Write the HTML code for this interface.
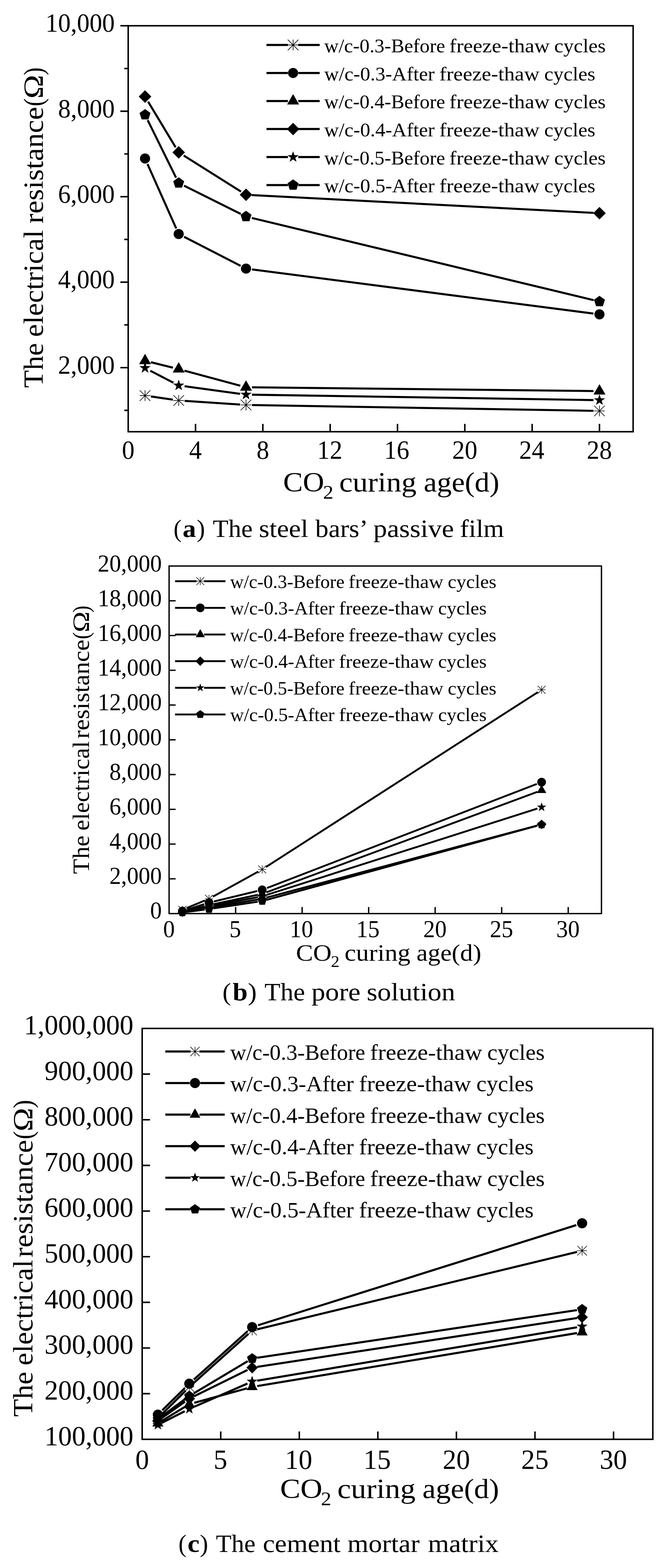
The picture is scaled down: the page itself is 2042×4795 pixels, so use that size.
<!DOCTYPE html>
<html lang="en"><head><meta charset="utf-8"><title>Electrical resistance vs CO2 curing age</title>
<style>
html,body{margin:0;padding:0;background:#fff;}
body{width:2042px;height:4795px;overflow:hidden;}
svg{display:block;}
svg text{font-family:"Liberation Serif",serif;fill:#000;font-kerning:none;font-variant-ligatures:none;white-space:pre;}
</style></head><body>
<svg width="2042" height="4795" viewBox="0 0 2042 4795">
<rect width="2042" height="4795" fill="#fff"/>
<rect x="391.9" y="78.8" width="1543.5" height="1241.4" fill="none" stroke="#000" stroke-width="4.6"/>
<path d="M391.9,1254.86h-12M391.9,1124.19h-24M391.9,993.52h-12M391.9,862.84h-24M391.9,732.17h-12M391.9,601.49h-24M391.9,470.82h-12M391.9,340.15h-24M391.9,209.47h-12M391.9,78.8h-24M597.7,1320.2v-24M803.5,1320.2v-24M1009.3,1320.2v-24M1215.1,1320.2v-24M1420.9,1320.2v-24M1626.7,1320.2v-24M1832.5,1320.2v-24" stroke="#000" stroke-width="4.6" fill="none"/>
<text transform="translate(138.93,97.3) scale(0.9657,1)" font-size="79.76">10,000</text>
<text transform="translate(177.44,358.65) scale(0.9657,1)" font-size="79.76">8,000</text>
<text transform="translate(177.44,619.99) scale(0.9657,1)" font-size="79.76">6,000</text>
<text transform="translate(177.44,881.34) scale(0.9657,1)" font-size="79.76">4,000</text>
<text transform="translate(177.44,1142.69) scale(0.9657,1)" font-size="79.76">2,000</text>
<text transform="translate(372.65,1402.6) scale(0.9657,1)" font-size="79.76">0</text>
<text transform="translate(578.29,1402.6) scale(0.9657,1)" font-size="79.76">4</text>
<text transform="translate(784.25,1402.6) scale(0.9657,1)" font-size="79.76">8</text>
<text transform="translate(969.53,1402.6) scale(0.9657,1)" font-size="79.76">12</text>
<text transform="translate(1174.35,1402.6) scale(0.9657,1)" font-size="79.76">16</text>
<text transform="translate(1382.16,1402.6) scale(0.9657,1)" font-size="79.76">20</text>
<text transform="translate(1587.1,1402.6) scale(0.9657,1)" font-size="79.76">24</text>
<text transform="translate(1793.76,1402.6) scale(0.9657,1)" font-size="79.76">28</text>
<text transform="translate(131,1185.99) rotate(-90) scale(1.0444,1)" font-size="84.53">The</text>
<text transform="translate(131,1030.59) rotate(-90) scale(1.0568,1)" font-size="84.53">electrical</text>
<text transform="translate(131,683.51) rotate(-90) scale(1.0714,1)" font-size="84.53">resistance</text>
<text transform="translate(131,324.92) rotate(-90) scale(0.8659,1)" font-size="84.53">(</text>
<text transform="translate(131,302.02) rotate(-90) scale(1.1707,1)" font-size="84.53">Ω</text>
<text transform="translate(131,229.91) rotate(-90) scale(0.8475,1)" font-size="84.53">)</text>
<text transform="translate(865.39,1503) scale(1.0707,1)" font-size="84.38">CO</text>
<text transform="translate(987.6,1525.2) scale(1.0769,1)" font-size="59.07">2</text>
<text transform="translate(1036.98,1503) scale(1.0956,1)" font-size="84.38">curing</text>
<text transform="translate(1295.32,1503) scale(1.0727,1)" font-size="84.38">age(d)</text>
<text transform="translate(530.55,1642.3) scale(0.9643,1)" font-size="76.71">(</text>
<text transform="translate(558.36,1642.3) scale(1.0684,1)" font-size="76.71" font-weight="bold">a</text>
<text transform="translate(601.23,1642.3) scale(0.9999,1)" font-size="76.71">)</text>
<text transform="translate(650.49,1642.3) scale(1.0198,1)" font-size="76.71">The</text>
<text transform="translate(791.42,1642.3) scale(1.0743,1)" font-size="76.71">steel</text>
<text transform="translate(963.8,1642.3) scale(1.0529,1)" font-size="76.71">bars’</text>
<text transform="translate(1141.35,1642.3) scale(1.0913,1)" font-size="76.71">passive</text>
<text transform="translate(1406.01,1642.3) scale(1.054,1)" font-size="76.71">film</text>
<path d="M814.6,137.5H880.15M911.75,137.5H977.3" stroke="#000" stroke-width="6.5" fill="none"/>
<path d="M879.45,137.5H912.45M895.95,121V154M879.7,121.25L912.2,153.75M879.7,153.75L912.2,121.25" stroke="#000" stroke-width="1.9" fill="none"/>
<text transform="translate(991.34,160.1) scale(1.0228,1)" font-size="59.39">w/c-0.3-Before</text>
<text transform="translate(1373.57,160.1) scale(1.0944,1)" font-size="59.39">freeze-thaw</text>
<text transform="translate(1694.37,160.1) scale(1.0594,1)" font-size="59.39">cycles</text>
<path d="M814.6,223.2H880.05M911.85,223.2H977.3" stroke="#000" stroke-width="6.5" fill="none"/>
<circle cx="895.95" cy="223.2" r="15.45"/>
<text transform="translate(991.34,245.75) scale(1.0384,1)" font-size="59.39">w/c-0.3-After</text>
<text transform="translate(1342.89,245.75) scale(1.0927,1)" font-size="59.39">freeze-thaw</text>
<text transform="translate(1663.69,245.75) scale(1.0531,1)" font-size="59.39">cycles</text>
<path d="M814.6,308.9H880.15M911.75,308.9H977.3" stroke="#000" stroke-width="6.5" fill="none"/>
<polygon points="895.95,287.77 914.25,319.47 877.65,319.47"/>
<text transform="translate(991.34,331.4) scale(1.0228,1)" font-size="59.39">w/c-0.4-Before</text>
<text transform="translate(1373.57,331.4) scale(1.0944,1)" font-size="59.39">freeze-thaw</text>
<text transform="translate(1694.37,331.4) scale(1.0594,1)" font-size="59.39">cycles</text>
<path d="M814.6,394.6H880.15M911.75,394.6H977.3" stroke="#000" stroke-width="6.5" fill="none"/>
<polygon points="895.95,375.4 915.15,394.6 895.95,413.8 876.75,394.6"/>
<text transform="translate(991.34,417.05) scale(1.0384,1)" font-size="59.39">w/c-0.4-After</text>
<text transform="translate(1342.89,417.05) scale(1.0927,1)" font-size="59.39">freeze-thaw</text>
<text transform="translate(1663.69,417.05) scale(1.0531,1)" font-size="59.39">cycles</text>
<path d="M814.6,480.3H880.15M911.75,480.3H977.3" stroke="#000" stroke-width="6.5" fill="none"/>
<polygon points="895.95,462.4 900.16,474.51 912.97,474.77 902.76,482.51 906.47,494.78 895.95,487.46 885.43,494.78 889.14,482.51 878.93,474.77 891.74,474.51"/>
<text transform="translate(991.34,502.7) scale(1.0228,1)" font-size="59.39">w/c-0.5-Before</text>
<text transform="translate(1373.57,502.7) scale(1.0944,1)" font-size="59.39">freeze-thaw</text>
<text transform="translate(1694.37,502.7) scale(1.0594,1)" font-size="59.39">cycles</text>
<path d="M814.6,566H880.15M911.75,566H977.3" stroke="#000" stroke-width="6.5" fill="none"/>
<polygon points="895.95,548.4 912.69,560.56 906.3,580.24 885.6,580.24 879.21,560.56"/>
<text transform="translate(991.34,588.35) scale(1.0384,1)" font-size="59.39">w/c-0.5-After</text>
<text transform="translate(1342.89,588.35) scale(1.0927,1)" font-size="59.39">freeze-thaw</text>
<text transform="translate(1663.69,588.35) scale(1.0531,1)" font-size="59.39">cycles</text>
<path d="M461.36,1212.41L528.24,1222.09M564.41,1225.91L733.89,1237.19M770.25,1238.71L1814.3,1256.29" stroke="#000" stroke-width="6.3" fill="none"/>
<path d="M426.85,1209.8H459.85M443.35,1193.3V1226.3M427.1,1193.55L459.6,1226.05M427.1,1226.05L459.6,1193.55" stroke="#000" stroke-width="1.9" fill="none"/>
<path d="M529.75,1224.7H562.75M546.25,1208.2V1241.2M530,1208.45L562.5,1240.95M530,1240.95L562.5,1208.45" stroke="#000" stroke-width="1.9" fill="none"/>
<path d="M735.55,1238.4H768.55M752.05,1221.9V1254.9M735.8,1222.15L768.3,1254.65M735.8,1254.65L768.3,1222.15" stroke="#000" stroke-width="1.9" fill="none"/>
<path d="M1816,1256.6H1849M1832.5,1240.1V1273.1M1816.25,1240.35L1848.75,1272.85M1816.25,1272.85L1848.75,1240.35" stroke="#000" stroke-width="1.9" fill="none"/>
<path d="M450.88,501.6L538.72,698.8M562.71,724.15L735.59,812.95M770.4,823.78L1814.15,958.92" stroke="#000" stroke-width="6.3" fill="none"/>
<circle cx="443.35" cy="484.7" r="15.45"/>
<circle cx="546.25" cy="715.7" r="15.45"/>
<circle cx="752.05" cy="821.4" r="15.45"/>
<circle cx="1832.5" cy="961.3" r="15.45"/>
<path d="M461.02,1107.58L528.58,1124.32M563.82,1133.44L734.48,1179.46M770.25,1184.4L1814.3,1195.8" stroke="#000" stroke-width="6.3" fill="none"/>
<polygon points="443.35,1082.07 461.65,1113.77 425.05,1113.77"/>
<polygon points="546.25,1107.57 564.55,1139.27 527.95,1139.27"/>
<polygon points="752.05,1163.07 770.35,1194.77 733.75,1194.77"/>
<polygon points="1832.5,1174.87 1850.8,1206.57 1814.2,1206.57"/>
<path d="M452.75,310.89L536.85,450.41M561.65,475.7L736.65,585.9M770.23,596.55L1814.32,650.95" stroke="#000" stroke-width="6.3" fill="none"/>
<polygon points="443.35,276.1 462.55,295.3 443.35,314.5 424.15,295.3"/>
<polygon points="546.25,446.8 565.45,466 546.25,485.2 527.05,466"/>
<polygon points="752.05,576.4 771.25,595.6 752.05,614.8 732.85,595.6"/>
<polygon points="1832.5,632.7 1851.7,651.9 1832.5,671.1 1813.3,651.9"/>
<path d="M459.5,1133.78L530.1,1170.42M564.29,1181.24L734.01,1204.26M770.25,1206.99L1814.3,1223.51" stroke="#000" stroke-width="6.3" fill="none"/>
<polygon points="443.35,1107.5 447.56,1119.61 460.37,1119.87 450.16,1127.61 453.87,1139.88 443.35,1132.56 432.83,1139.88 436.54,1127.61 426.33,1119.87 439.14,1119.61"/>
<polygon points="546.25,1160.9 550.46,1173.01 563.27,1173.27 553.06,1181.01 556.77,1193.28 546.25,1185.96 535.73,1193.28 539.44,1181.01 529.23,1173.27 542.04,1173.01"/>
<polygon points="752.05,1188.8 756.26,1200.91 769.07,1201.17 758.86,1208.91 762.57,1221.18 752.05,1213.86 741.53,1221.18 745.24,1208.91 735.03,1201.17 747.84,1200.91"/>
<polygon points="1832.5,1205.9 1836.71,1218.01 1849.52,1218.27 1839.31,1226.01 1843.02,1238.28 1832.5,1230.96 1821.98,1238.28 1825.69,1226.01 1815.48,1218.27 1828.29,1218.01"/>
<path d="M451.4,367.32L538.2,543.28M562.54,567.72L735.76,654.08M769.74,666.46L1814.81,917.94" stroke="#000" stroke-width="6.3" fill="none"/>
<polygon points="443.35,333.4 460.09,345.56 453.7,365.24 433,365.24 426.61,345.56"/>
<polygon points="546.25,542 562.99,554.16 556.6,573.84 535.9,573.84 529.51,554.16"/>
<polygon points="752.05,644.6 768.79,656.76 762.4,676.44 741.7,676.44 735.31,656.76"/>
<polygon points="1832.5,904.6 1849.24,916.76 1842.85,936.44 1822.15,936.44 1815.76,916.76"/>
<rect x="516.9" y="1730.9" width="1321.7" height="1062.9" fill="none" stroke="#000" stroke-width="4.1"/>
<path d="M516.9,2687.51h20M516.9,2581.22h20M516.9,2474.93h20M516.9,2368.64h20M516.9,2262.35h20M516.9,2156.06h20M516.9,2049.77h20M516.9,1943.48h20M516.9,1837.19h20M720.24,2793.8v-20M923.58,2793.8v-20M1126.92,2793.8v-20M1330.25,2793.8v-20M1533.59,2793.8v-20M1736.93,2793.8v-20" stroke="#000" stroke-width="4.1" fill="none"/>
<text transform="translate(298.87,1747.7) scale(0.9701,1)" font-size="73.41">20,000</text>
<text transform="translate(459.1,2809.4) scale(0.9701,1)" font-size="73.41">0</text>
<text transform="translate(334.48,2703.23) scale(0.9701,1)" font-size="73.41">2,000</text>
<text transform="translate(334.48,2597.06) scale(0.9701,1)" font-size="73.41">4,000</text>
<text transform="translate(334.48,2490.89) scale(0.9701,1)" font-size="73.41">6,000</text>
<text transform="translate(334.48,2384.72) scale(0.9701,1)" font-size="73.41">8,000</text>
<text transform="translate(298.87,2278.55) scale(0.9701,1)" font-size="73.41">10,000</text>
<text transform="translate(298.87,2172.38) scale(0.9701,1)" font-size="73.41">12,000</text>
<text transform="translate(298.87,2066.21) scale(0.9701,1)" font-size="73.41">14,000</text>
<text transform="translate(298.87,1960.04) scale(0.9701,1)" font-size="73.41">16,000</text>
<text transform="translate(298.87,1853.87) scale(0.9701,1)" font-size="73.41">18,000</text>
<text transform="translate(498.7,2865.9) scale(0.9701,1)" font-size="73.41">0</text>
<text transform="translate(701.36,2865.9) scale(0.9701,1)" font-size="73.41">5</text>
<text transform="translate(885.8,2865.9) scale(0.9701,1)" font-size="73.41">10</text>
<text transform="translate(1089.17,2865.9) scale(0.9701,1)" font-size="73.41">15</text>
<text transform="translate(1294.04,2865.9) scale(0.9701,1)" font-size="73.41">20</text>
<text transform="translate(1497.41,2865.9) scale(0.9701,1)" font-size="73.41">25</text>
<text transform="translate(1700.58,2865.9) scale(0.9701,1)" font-size="73.41">30</text>
<text transform="translate(272.4,2672.46) rotate(-90) scale(1.0402,1)" font-size="72.58">The</text>
<text transform="translate(272.4,2540.02) rotate(-90) scale(1.029,1)" font-size="72.58">electrical</text>
<text transform="translate(272.4,2259.04) rotate(-90) scale(1.0596,1)" font-size="72.58">resistance</text>
<text transform="translate(272.4,1954.76) rotate(-90) scale(0.8958,1)" font-size="72.58">(</text>
<text transform="translate(272.4,1933.76) rotate(-90) scale(1.1868,1)" font-size="72.58">Ω</text>
<text transform="translate(272.4,1872.93) rotate(-90) scale(0.869,1)" font-size="72.58">)</text>
<text transform="translate(904.68,2938.4) scale(1.0848,1)" font-size="72.29">CO</text>
<text transform="translate(1011.59,2957.4) scale(1.0402,1)" font-size="50.6">2</text>
<text transform="translate(1053.3,2938.4) scale(1.0912,1)" font-size="72.29">curing</text>
<text transform="translate(1272.97,2938.4) scale(1.0744,1)" font-size="72.29">age(d)</text>
<text transform="translate(680.04,3058.5) scale(1.0252,1)" font-size="76.71">(</text>
<text transform="translate(711.15,3058.5) scale(1.0731,1)" font-size="76.71" font-weight="bold">b</text>
<text transform="translate(757.78,3058.5) scale(1.0608,1)" font-size="76.71">)</text>
<text transform="translate(808.56,3058.5) scale(1.0389,1)" font-size="76.71">The</text>
<text transform="translate(951.94,3058.5) scale(1.1011,1)" font-size="76.71">pore</text>
<text transform="translate(1120.96,3058.5) scale(1.0942,1)" font-size="76.71">solution</text>
<path d="M535.2,1777.3H600.6M623.8,1777.3H689.2" stroke="#000" stroke-width="5.7" fill="none"/>
<path d="M600.05,1777.3H624.35M612.2,1765.15V1789.45M600.23,1765.33L624.17,1789.27M600.23,1789.27L624.17,1765.33" stroke="#000" stroke-width="1.6" fill="none"/>
<text transform="translate(703.44,1798) scale(1.0101,1)" font-size="56.91">w/c-0.3-Before</text>
<text transform="translate(1065.18,1798) scale(1.0809,1)" font-size="56.91">freeze-thaw</text>
<text transform="translate(1368.78,1798) scale(1.0463,1)" font-size="56.91">cycles</text>
<path d="M535.2,1858.8H598.3M626.1,1858.8H689.2" stroke="#000" stroke-width="5.7" fill="none"/>
<circle cx="612.2" cy="1858.8" r="13.35"/>
<text transform="translate(703.44,1879.45) scale(1.0253,1)" font-size="56.91">w/c-0.3-After</text>
<text transform="translate(1036.07,1879.45) scale(1.0789,1)" font-size="56.91">freeze-thaw</text>
<text transform="translate(1339.59,1879.45) scale(1.0398,1)" font-size="56.91">cycles</text>
<path d="M535.2,1940.3H600.6M623.8,1940.3H689.2" stroke="#000" stroke-width="5.7" fill="none"/>
<polygon points="612.2,1924.08 626.25,1948.41 598.15,1948.41"/>
<text transform="translate(703.44,1960.9) scale(1.0101,1)" font-size="56.91">w/c-0.4-Before</text>
<text transform="translate(1065.18,1960.9) scale(1.0809,1)" font-size="56.91">freeze-thaw</text>
<text transform="translate(1368.78,1960.9) scale(1.0463,1)" font-size="56.91">cycles</text>
<path d="M535.2,2021.8H600.6M623.8,2021.8H689.2" stroke="#000" stroke-width="5.7" fill="none"/>
<polygon points="612.2,2007.2 626.8,2021.8 612.2,2036.4 597.6,2021.8"/>
<text transform="translate(703.44,2042.35) scale(1.0253,1)" font-size="56.91">w/c-0.4-After</text>
<text transform="translate(1036.07,2042.35) scale(1.0789,1)" font-size="56.91">freeze-thaw</text>
<text transform="translate(1339.59,2042.35) scale(1.0398,1)" font-size="56.91">cycles</text>
<path d="M535.2,2103.3H600.6M623.8,2103.3H689.2" stroke="#000" stroke-width="5.7" fill="none"/>
<polygon points="612.2,2090 615.33,2099 624.85,2099.19 617.26,2104.94 620.02,2114.06 612.2,2108.62 604.38,2114.06 607.14,2104.94 599.55,2099.19 609.07,2099"/>
<text transform="translate(703.44,2123.8) scale(1.0101,1)" font-size="56.91">w/c-0.5-Before</text>
<text transform="translate(1065.18,2123.8) scale(1.0809,1)" font-size="56.91">freeze-thaw</text>
<text transform="translate(1368.78,2123.8) scale(1.0463,1)" font-size="56.91">cycles</text>
<path d="M535.2,2184.8H600.6M623.8,2184.8H689.2" stroke="#000" stroke-width="5.7" fill="none"/>
<polygon points="612.2,2171.45 624.9,2180.67 620.05,2195.6 604.35,2195.6 599.5,2180.67"/>
<text transform="translate(703.44,2205.25) scale(1.0253,1)" font-size="56.91">w/c-0.5-After</text>
<text transform="translate(1036.07,2205.25) scale(1.0789,1)" font-size="56.91">freeze-thaw</text>
<text transform="translate(1339.59,2205.25) scale(1.0398,1)" font-size="56.91">cycles</text>
<path d="M570.04,2777.03L626.43,2753.67M650.72,2741.98L789.76,2665.22M812.93,2651.4L1644.24,2116.6" stroke="#000" stroke-width="5.7" fill="none"/>
<path d="M545.27,2782.2H569.87M557.57,2769.9V2794.5M545.45,2770.08L569.68,2794.32M545.45,2794.32L569.68,2770.08" stroke="#000" stroke-width="1.6" fill="none"/>
<path d="M626.6,2748.5H651.2M638.9,2736.2V2760.8M626.79,2736.38L651.02,2760.62M626.79,2760.62L651.02,2736.38" stroke="#000" stroke-width="1.6" fill="none"/>
<path d="M789.27,2658.7H813.87M801.57,2646.4V2671M789.46,2646.58L813.69,2670.82M789.46,2670.82L813.69,2646.58" stroke="#000" stroke-width="1.6" fill="none"/>
<path d="M1643.3,2109.3H1667.9M1655.6,2097V2121.6M1643.48,2097.18L1667.71,2121.42M1643.48,2121.42L1667.71,2097.18" stroke="#000" stroke-width="1.6" fill="none"/>
<path d="M572.43,2781.47L624.04,2765.03M654.07,2756.65L786.41,2724.85M816.13,2715.59L1641.04,2397.41" stroke="#000" stroke-width="5.7" fill="none"/>
<circle cx="557.57" cy="2786.2" r="13.35"/>
<circle cx="638.9" cy="2760.3" r="13.35"/>
<circle cx="801.57" cy="2721.2" r="13.35"/>
<circle cx="1655.6" cy="2391.8" r="13.35"/>
<path d="M570.7,2784.35L625.78,2771.15M652.11,2765.2L788.37,2736.3M814.23,2728.8L1642.94,2421.4" stroke="#000" stroke-width="5.7" fill="none"/>
<polygon points="557.57,2770.87 571.97,2795.81 543.17,2795.81"/>
<polygon points="638.9,2751.37 653.3,2776.31 624.5,2776.31"/>
<polygon points="801.57,2716.87 815.97,2741.81 787.17,2741.81"/>
<polygon points="1655.6,2400.07 1670,2425.01 1641.2,2425.01"/>
<path d="M570.89,2787.29L625.59,2778.21M652.21,2773.75L788.26,2750.75M814.62,2745.02L1642.55,2524.38" stroke="#000" stroke-width="5.7" fill="none"/>
<polygon points="557.57,2774.9 572.17,2789.5 557.57,2804.1 542.97,2789.5"/>
<polygon points="638.9,2761.4 653.5,2776 638.9,2790.6 624.3,2776"/>
<polygon points="801.57,2733.9 816.17,2748.5 801.57,2763.1 786.97,2748.5"/>
<polygon points="1655.6,2506.3 1670.2,2520.9 1655.6,2535.5 1641,2520.9"/>
<path d="M570.8,2785.82L625.67,2774.68M652.16,2769.47L788.31,2743.53M814.43,2736.89L1642.73,2472.51" stroke="#000" stroke-width="5.7" fill="none"/>
<polygon points="557.57,2773.6 561.07,2783.68 571.74,2783.9 563.24,2790.34 566.33,2800.55 557.57,2794.46 548.81,2800.55 551.9,2790.34 543.4,2783.9 554.06,2783.68"/>
<polygon points="638.9,2757.1 642.41,2767.18 653.07,2767.4 644.57,2773.84 647.66,2784.05 638.9,2777.96 630.15,2784.05 633.23,2773.84 624.73,2767.4 635.4,2767.18"/>
<polygon points="801.57,2726.1 805.08,2736.18 815.74,2736.4 807.24,2742.84 810.33,2753.05 801.57,2746.96 792.82,2753.05 795.91,2742.84 787.4,2736.4 798.07,2736.18"/>
<polygon points="1655.6,2453.5 1659.1,2463.58 1669.77,2463.8 1661.26,2470.24 1664.35,2480.45 1655.6,2474.36 1646.84,2480.45 1649.93,2470.24 1641.42,2463.8 1652.09,2463.58"/>
<path d="M570.96,2788.77L625.51,2781.73M652.25,2777.99L788.22,2757.51M814.59,2751.93L1642.58,2525.07" stroke="#000" stroke-width="5.7" fill="none"/>
<polygon points="557.57,2776.6 570.79,2786.2 565.74,2801.75 549.4,2801.75 544.35,2786.2"/>
<polygon points="638.9,2766.1 652.12,2775.7 647.07,2791.25 630.73,2791.25 625.68,2775.7"/>
<polygon points="801.57,2741.6 814.79,2751.2 809.74,2766.75 793.4,2766.75 788.35,2751.2"/>
<polygon points="1655.6,2507.6 1668.82,2517.2 1663.77,2532.75 1647.43,2532.75 1642.38,2517.2"/>
<rect x="434.6" y="3145" width="1561" height="1256.5" fill="none" stroke="#000" stroke-width="4.6"/>
<path d="M434.6,4261.89h24M434.6,4122.28h24M434.6,3982.67h24M434.6,3843.06h24M434.6,3703.44h24M434.6,3563.83h24M434.6,3424.22h24M434.6,3284.61h24M674.75,4401.5v-24M914.91,4401.5v-24M1155.06,4401.5v-24M1395.22,4401.5v-24M1635.37,4401.5v-24M1875.52,4401.5v-24" stroke="#000" stroke-width="4.6" fill="none"/>
<text transform="translate(73.25,3163) scale(0.982,1)" font-size="85.2">1,000,000</text>
<text transform="translate(135.99,4419.5) scale(0.982,1)" font-size="85.2">100,000</text>
<text transform="translate(135.99,4279.89) scale(0.982,1)" font-size="85.2">200,000</text>
<text transform="translate(135.99,4140.28) scale(0.982,1)" font-size="85.2">300,000</text>
<text transform="translate(135.99,4000.67) scale(0.982,1)" font-size="85.2">400,000</text>
<text transform="translate(135.99,3861.06) scale(0.982,1)" font-size="85.2">500,000</text>
<text transform="translate(135.99,3721.44) scale(0.982,1)" font-size="85.2">600,000</text>
<text transform="translate(135.99,3581.83) scale(0.982,1)" font-size="85.2">700,000</text>
<text transform="translate(135.99,3442.22) scale(0.982,1)" font-size="85.2">800,000</text>
<text transform="translate(135.99,3302.61) scale(0.982,1)" font-size="85.2">900,000</text>
<text transform="translate(413.69,4492.3) scale(0.982,1)" font-size="85.2">0</text>
<text transform="translate(653.04,4492.3) scale(0.982,1)" font-size="85.2">5</text>
<text transform="translate(870.99,4492.3) scale(0.982,1)" font-size="85.2">10</text>
<text transform="translate(1111.19,4492.3) scale(0.982,1)" font-size="85.2">15</text>
<text transform="translate(1353.14,4492.3) scale(0.982,1)" font-size="85.2">20</text>
<text transform="translate(1593.34,4492.3) scale(0.982,1)" font-size="85.2">25</text>
<text transform="translate(1833.28,4492.3) scale(0.982,1)" font-size="85.2">30</text>
<text transform="translate(98.5,4332.6) rotate(-90) scale(1.0372,1)" font-size="85.57">The</text>
<text transform="translate(98.5,4175.85) rotate(-90) scale(1.0317,1)" font-size="85.57">electrical</text>
<text transform="translate(98.5,3845.33) rotate(-90) scale(1.0669,1)" font-size="85.57">resistance</text>
<text transform="translate(98.5,3483.99) rotate(-90) scale(0.8737,1)" font-size="85.57">(</text>
<text transform="translate(98.5,3460.05) rotate(-90) scale(1.1401,1)" font-size="85.57">Ω</text>
<text transform="translate(98.5,3389.08) rotate(-90) scale(0.901,1)" font-size="85.57">)</text>
<text transform="translate(856.18,4580.6) scale(1.0948,1)" font-size="84.97">CO</text>
<text transform="translate(981,4602.8) scale(1.0694,1)" font-size="59.48">2</text>
<text transform="translate(1031.34,4580.6) scale(1.1012,1)" font-size="84.97">curing</text>
<text transform="translate(1291.17,4580.6) scale(1.0805,1)" font-size="84.97">age(d)</text>
<text transform="translate(545.55,4746) scale(0.9643,1)" font-size="76.71">(</text>
<text transform="translate(573.17,4746) scale(1.0807,1)" font-size="76.71" font-weight="bold">c</text>
<text transform="translate(610.63,4746) scale(0.9999,1)" font-size="76.71">)</text>
<text transform="translate(659.99,4746) scale(1.0163,1)" font-size="76.71">The</text>
<text transform="translate(803.56,4746) scale(1.0733,1)" font-size="76.71">cement</text>
<text transform="translate(1062.06,4746) scale(1.0791,1)" font-size="76.71">mortar</text>
<text transform="translate(1308.16,4746) scale(1.0794,1)" font-size="76.71">matrix</text>
<path d="M505.4,3215.5H582.4M609.8,3215.5H686.8" stroke="#000" stroke-width="6.5" fill="none"/>
<path d="M581.6,3215.5H610.6M596.1,3201V3230M581.82,3201.22L610.38,3229.78M581.82,3229.78L610.38,3201.22" stroke="#000" stroke-width="1.7" fill="none"/>
<text transform="translate(703.73,3240.6) scale(0.9898,1)" font-size="68.58">w/c-0.3-Before</text>
<text transform="translate(1130.92,3240.6) scale(1.0592,1)" font-size="68.58">freeze-thaw</text>
<text transform="translate(1489.45,3240.6) scale(1.0253,1)" font-size="68.58">cycles</text>
<path d="M505.4,3312H580M612.2,3312H686.8" stroke="#000" stroke-width="6.5" fill="none"/>
<circle cx="596.1" cy="3312" r="15.45"/>
<text transform="translate(703.73,3337.1) scale(1.0065,1)" font-size="68.58">w/c-0.3-After</text>
<text transform="translate(1097.24,3337.1) scale(1.0591,1)" font-size="68.58">freeze-thaw</text>
<text transform="translate(1456.31,3337.1) scale(1.0208,1)" font-size="68.58">cycles</text>
<path d="M505.4,3408.5H582.4M609.8,3408.5H686.8" stroke="#000" stroke-width="6.5" fill="none"/>
<polygon points="596.1,3389.51 612.55,3418 579.65,3418"/>
<text transform="translate(703.73,3433.6) scale(0.9898,1)" font-size="68.58">w/c-0.4-Before</text>
<text transform="translate(1130.92,3433.6) scale(1.0592,1)" font-size="68.58">freeze-thaw</text>
<text transform="translate(1489.45,3433.6) scale(1.0253,1)" font-size="68.58">cycles</text>
<path d="M505.4,3505H582.4M609.8,3505H686.8" stroke="#000" stroke-width="6.5" fill="none"/>
<polygon points="596.1,3487.8 613.3,3505 596.1,3522.2 578.9,3505"/>
<text transform="translate(703.73,3530.1) scale(1.0065,1)" font-size="68.58">w/c-0.4-After</text>
<text transform="translate(1097.24,3530.1) scale(1.0591,1)" font-size="68.58">freeze-thaw</text>
<text transform="translate(1456.31,3530.1) scale(1.0208,1)" font-size="68.58">cycles</text>
<path d="M505.4,3601.5H582.4M609.8,3601.5H686.8" stroke="#000" stroke-width="6.5" fill="none"/>
<polygon points="596.1,3586 599.74,3596.48 610.84,3596.71 602,3603.42 605.21,3614.04 596.1,3607.7 586.99,3614.04 590.2,3603.42 581.36,3596.71 592.46,3596.48"/>
<text transform="translate(703.73,3626.6) scale(0.9898,1)" font-size="68.58">w/c-0.5-Before</text>
<text transform="translate(1130.92,3626.6) scale(1.0592,1)" font-size="68.58">freeze-thaw</text>
<text transform="translate(1489.45,3626.6) scale(1.0253,1)" font-size="68.58">cycles</text>
<path d="M505.4,3698H582.4M609.8,3698H686.8" stroke="#000" stroke-width="6.5" fill="none"/>
<polygon points="596.1,3682.2 611.13,3693.12 605.39,3710.78 586.81,3710.78 581.07,3693.12"/>
<text transform="translate(703.73,3723.1) scale(1.0065,1)" font-size="68.58">w/c-0.5-After</text>
<text transform="translate(1097.24,3723.1) scale(1.0591,1)" font-size="68.58">freeze-thaw</text>
<text transform="translate(1456.31,3723.1) scale(1.0208,1)" font-size="68.58">cycles</text>
<path d="M493.84,4325.86L567.49,4252.64M590.45,4230.94L759.06,4079.46M786.17,4065.18L1764.11,3828.42" stroke="#000" stroke-width="6.4" fill="none"/>
<path d="M467.83,4337H497.43M482.63,4322.2V4351.8M468.05,4322.42L497.21,4351.58M468.05,4351.58L497.21,4322.42" stroke="#000" stroke-width="1.7" fill="none"/>
<path d="M563.89,4241.5H593.49M578.69,4226.7V4256.3M564.11,4226.92L593.27,4256.08M564.11,4256.08L593.27,4226.92" stroke="#000" stroke-width="1.7" fill="none"/>
<path d="M756.02,4068.9H785.62M770.82,4054.1V4083.7M756.24,4054.32L785.39,4083.48M756.24,4083.48L785.39,4054.32" stroke="#000" stroke-width="1.7" fill="none"/>
<path d="M1764.66,3824.7H1794.26M1779.46,3809.9V3839.5M1764.88,3810.12L1794.04,3839.28M1764.88,3839.28L1794.04,3810.12" stroke="#000" stroke-width="1.7" fill="none"/>
<path d="M495.95,4312.78L565.37,4244.42M592.59,4218.79L756.92,4070.81M788.65,4052.69L1761.62,3746.41" stroke="#000" stroke-width="6.4" fill="none"/>
<circle cx="482.63" cy="4325.9" r="15.5"/>
<circle cx="578.69" cy="4231.3" r="15.5"/>
<circle cx="770.82" cy="4058.3" r="15.5"/>
<circle cx="1779.46" cy="3740.8" r="15.5"/>
<path d="M496.12,4344.37L565.2,4302.23M593.93,4289.82L755.58,4245.48M786.4,4238.71L1763.87,4076.49" stroke="#000" stroke-width="6.4" fill="none"/>
<polygon points="482.63,4333.09 499.53,4362.36 465.73,4362.36"/>
<polygon points="578.69,4274.49 595.59,4303.76 561.79,4303.76"/>
<polygon points="770.82,4221.79 787.72,4251.06 753.92,4251.06"/>
<polygon points="1779.46,4054.39 1796.36,4083.66 1762.56,4083.66"/>
<path d="M495.53,4335.87L565.8,4286.13M592.86,4270.01L756.64,4189.29M786.43,4179.91L1763.84,4030.59" stroke="#000" stroke-width="6.4" fill="none"/>
<polygon points="482.63,4327.4 500.23,4345 482.63,4362.6 465.03,4345"/>
<polygon points="578.69,4259.4 596.29,4277 578.69,4294.6 561.09,4277"/>
<polygon points="770.82,4164.7 788.42,4182.3 770.82,4199.9 753.22,4182.3"/>
<polygon points="1779.46,4010.6 1797.06,4028.2 1779.46,4045.8 1761.86,4028.2"/>
<path d="M496.72,4350.14L564.61,4315.66M593.17,4302.18L756.33,4231.02M786.4,4222.1L1763.88,4058.9" stroke="#000" stroke-width="6.4" fill="none"/>
<polygon points="482.63,4339.8 486.75,4351.64 499.27,4351.89 489.29,4359.46 492.92,4371.46 482.63,4364.3 472.34,4371.46 475.97,4359.46 465.99,4351.89 478.52,4351.64"/>
<polygon points="578.69,4291 582.81,4302.84 595.34,4303.09 585.35,4310.66 588.98,4322.66 578.69,4315.5 568.41,4322.66 572.03,4310.66 562.05,4303.09 574.58,4302.84"/>
<polygon points="770.82,4207.2 774.93,4219.04 787.46,4219.29 777.47,4226.86 781.1,4238.86 770.82,4231.7 760.53,4238.86 764.16,4226.86 754.17,4219.29 766.7,4219.04"/>
<polygon points="1779.46,4038.8 1783.58,4050.64 1796.11,4050.89 1786.12,4058.46 1789.75,4070.46 1779.46,4063.3 1769.18,4070.46 1772.8,4058.46 1762.82,4050.89 1775.35,4050.64"/>
<path d="M495.34,4330.61L565.99,4278.39M592.26,4260.91L757.25,4162.49M786.44,4152.07L1763.83,4006.33" stroke="#000" stroke-width="6.4" fill="none"/>
<polygon points="482.63,4323.5 498.32,4334.9 492.33,4353.35 472.93,4353.35 466.94,4334.9"/>
<polygon points="578.69,4252.5 594.38,4263.9 588.39,4282.35 568.99,4282.35 563,4263.9"/>
<polygon points="770.82,4137.9 786.51,4149.3 780.51,4167.75 761.12,4167.75 755.12,4149.3"/>
<polygon points="1779.46,3987.5 1795.15,3998.9 1789.16,4017.35 1769.76,4017.35 1763.77,3998.9"/>
</svg>
</body></html>
